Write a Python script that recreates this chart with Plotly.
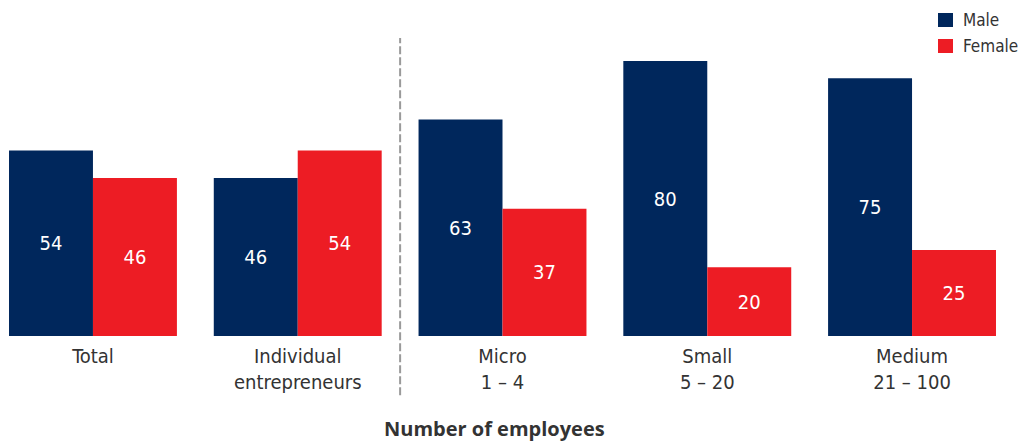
import plotly.graph_objects as go

categories = ["Total", "Individual<br>entrepreneurs", "Micro<br>1 – 4", "Small<br>5 – 20", "Medium<br>21 – 100"]
male = [54, 46, 63, 80, 75]
female = [46, 54, 37, 20, 25]
series_names = ["Male", "Female"]

NAVY = "#00275c"
RED = "#ed1c24"
FONT = "Liberation Sans Narrow, DejaVu Sans Condensed, Arial Narrow, sans-serif"

fig = go.Figure()
for name, vals, color in [(series_names[0], male, NAVY), (series_names[1], female, RED)]:
    fig.add_trace(go.Bar(
        name=name, x=list(range(len(categories))), y=vals, marker_color=color,
        marker_line_width=0, text=[str(v) for v in vals], textposition="inside",
        insidetextanchor="middle", textfont=dict(color="white", size=20, family=FONT),
        hoverinfo="skip", showlegend=False,
    ))

# divider between the overall groups and the firm-size groups
fig.add_shape(type="line", xref="x", yref="paper", x0=1.5, x1=1.5, y0=-0.176, y1=0.887,
              line=dict(color="#9a9a9a", width=2, dash="8px,3px"))

# legend: coloured squares with labels in the top right corner
for i, (name, color) in enumerate(zip(series_names, [NAVY, RED])):
    top = 13 + 26 * i
    fig.add_shape(type="rect", xref="paper", yref="paper",
                  x0=938 / 1022, x1=953 / 1022,
                  y0=(336 - top - 14) / 336, y1=(336 - top) / 336,
                  fillcolor=color, line_width=0)
    fig.add_annotation(text=name, xref="paper", yref="paper",
                       x=962 / 1022, y=(336 - top - 7) / 336,
                       xanchor="left", yanchor="middle", showarrow=False,
                       borderpad=0,
                       font=dict(family=FONT, size=17, color="#333333"))

fig.add_annotation(text="<b>Number of employees</b>", xref="paper", yref="paper",
                   x=0.4834, y=-0.274, xanchor="center", yanchor="middle", showarrow=False,
                   font=dict(family="Open Sans, sans-serif", size=20, color="#333333"))

fig.update_layout(
    width=1022, height=441,
    margin=dict(l=0, r=0, t=0, b=105, autoexpand=False),
    barmode="group", bargap=0.18, bargroupgap=0,
    plot_bgcolor="white", paper_bgcolor="white",
    font=dict(family=FONT, size=20, color="#333333"),
    uniformtext=dict(mode="show", minsize=10),
    showlegend=False,
    xaxis=dict(tickmode="array", tickvals=list(range(len(categories))), ticktext=categories,
               range=[-0.454, 4.537], showgrid=False, zeroline=False, showline=False,
               ticks="", ticklabelstandoff=6,
               tickfont=dict(family=FONT, size=20, color="#333333")),
    yaxis=dict(range=[0, 97.75], visible=False, showgrid=False, zeroline=False),
)

fig.write_html("out.html")
